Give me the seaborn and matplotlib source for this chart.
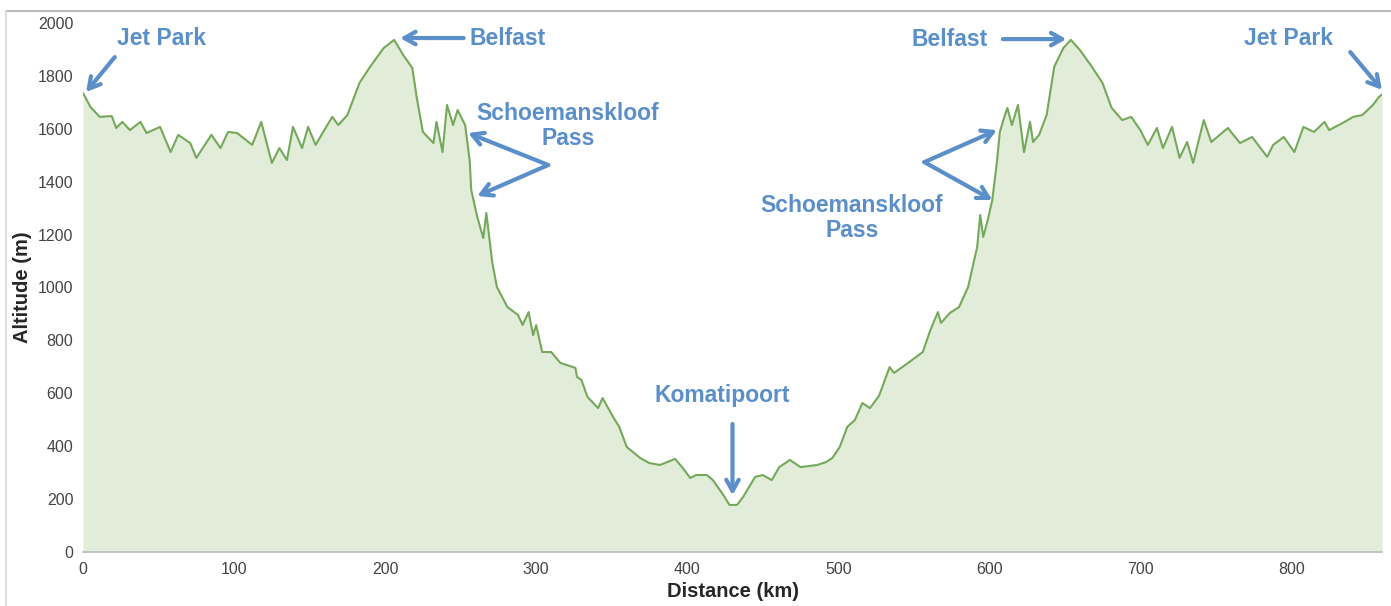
import matplotlib
matplotlib.use("Agg")
import matplotlib.pyplot as plt
import seaborn as sns
import pandas as pd

# profile
distance_km = [0, 5, 11, 19, 22, 26, 31, 38, 42, 51, 58, 63, 71, 75, 85, 91, 96, 102, 112, 118,
               125, 130, 135, 139, 145, 149, 154, 159, 165, 169, 175, 183, 190, 199, 206, 212, 218,
               221, 225, 232, 234, 238, 241, 245, 248, 253, 256, 257, 261, 265, 267, 271, 274, 281,
               288, 291, 295, 298, 300, 304, 310, 316, 326, 327, 330, 334, 341, 344, 351, 355, 360,
               369, 375, 382, 392, 397, 402, 406, 413, 417, 424, 428, 433, 437, 445, 450, 456, 461,
               468, 475, 486, 492, 496, 501, 506, 511, 516, 521, 527, 534, 537, 547, 556, 561, 566,
               568, 574, 580, 586, 589, 592, 594, 596, 599, 602, 605, 607, 610, 612, 615, 619, 623,
               627, 629, 633, 638, 643, 649, 654, 660, 668, 675, 681, 688, 694, 700, 705, 711, 715,
               721, 726, 731, 735, 742, 747, 758, 766, 774, 784, 788, 795, 802, 808, 815, 822, 825,
               834, 841, 847, 854, 858, 860]
altitude_m = [1735, 1682, 1645, 1648, 1603, 1626, 1595, 1626, 1584, 1607, 1512, 1577, 1546, 1490,
              1577, 1527, 1588, 1584, 1539, 1626, 1471, 1527, 1482, 1607, 1527, 1607, 1539, 1588,
              1645, 1614, 1652, 1773, 1834, 1905, 1936, 1879, 1830, 1716, 1588, 1546, 1626, 1512,
              1690, 1614, 1671, 1614, 1480, 1369, 1267, 1187, 1282, 1093, 1002, 926, 896, 858, 907,
              820, 858, 756, 756, 715, 696, 662, 650, 586, 544, 582, 510, 473, 397, 355, 336, 329,
              352, 318, 280, 291, 291, 272, 215, 178, 178, 208, 284, 291, 272, 321, 348, 321, 329,
              340, 355, 397, 473, 499, 563, 544, 590, 699, 677, 718, 756, 839, 907, 866, 904, 926,
              1002, 1077, 1153, 1274, 1191, 1255, 1331, 1471, 1588, 1645, 1679, 1614, 1690, 1512,
              1626, 1550, 1577, 1652, 1834, 1905, 1936, 1898, 1834, 1773, 1679, 1633, 1645, 1595,
              1539, 1603, 1527, 1607, 1490, 1550, 1471, 1633, 1550, 1603, 1546, 1569, 1494, 1539,
              1569, 1512, 1607, 1588, 1626, 1595, 1622, 1645, 1652, 1690, 1720, 1730]

x_ticks = [0, 100, 200, 300, 400, 500, 600, 700, 800]
y_ticks = [0, 200, 400, 600, 800, 1000, 1200, 1400, 1600, 1800, 2000]

# label, text position, arrow tails and heads (km, m)
labels = ["Jet Park", "Belfast", "Schoemanskloof\nPass", "Komatipoort",
          "Belfast", "Schoemanskloof\nPass", "Jet Park"]
label_xy = [(52, 1943), (281, 1943), (321, 1610), (423, 590), (574, 1936), (509, 1263), (798, 1943)]
arrow_from = [[(21, 1871)], [(252, 1943)], [(308, 1463), (308, 1463)], [(430, 484)],
              [(609, 1939)], [(557, 1474), (557, 1474)], [(839, 1890)]]
arrow_to = [[(2, 1739)], [(210, 1943)], [(255, 1584), (261, 1346)], [(430, 215)],
            [(651, 1939)], [(605, 1595), (602, 1331)], [(860, 1747)]]

df = pd.DataFrame({"Distance (km)": distance_km, "Altitude (m)": altitude_m})

sns.set_style("white")
plt.rcParams["font.family"] = ["Liberation Sans", "DejaVu Sans"]

fig = plt.figure(figsize=(13.91, 6.06), dpi=100)
ax = fig.add_axes([0.0597, 0.0891, 0.9338, 0.873])

line_col = "#74a95a"
fill_col = "#e1ecd9"
blue = "#5b8fc9"

ax.fill_between(df["Distance (km)"], df["Altitude (m)"], color=fill_col, lw=0)
sns.lineplot(data=df, x="Distance (km)", y="Altitude (m)", color=line_col, lw=1.5, ax=ax)

ax.set_xlim(0, 860)
ax.set_ylim(0, 2000)
ax.set_xticks(x_ticks)
ax.set_yticks(y_ticks)
ax.tick_params(axis="both", labelsize=11.5, labelcolor="#444444", length=0, pad=7)
ax.set_xlabel("Distance (km)", fontsize=14.5, fontweight="bold", labelpad=4)
ax.set_ylabel("Altitude (m)", fontsize=14.5, fontweight="bold", labelpad=4)

for s in ["top", "right", "left"]:
    ax.spines[s].set_visible(False)
ax.spines["bottom"].set_color("#bbbbbb")
ax.spines["bottom"].set_linewidth(1.2)

for lab, pos, tails, heads in zip(labels, label_xy, arrow_from, arrow_to):
    ax.text(pos[0], pos[1], lab, color=blue, fontsize=16.5, fontweight="bold",
            ha="center", va="center", linespacing=1.1)
    for t, h in zip(tails, heads):
        ax.annotate("", xy=h, xytext=t,
                    arrowprops=dict(arrowstyle="->,head_length=0.8,head_width=0.45",
                                    color=blue, lw=3, shrinkA=0, shrinkB=0))

# thin frame lines of the original screenshot
fig.add_artist(plt.Line2D([0.004, 1], [0.982, 0.982], color="#bbbbbb", lw=1.5))
fig.add_artist(plt.Line2D([0.004, 0.004], [0, 0.982], color="#dddddd", lw=1.5))

fig.savefig("out.png", dpi=100)
